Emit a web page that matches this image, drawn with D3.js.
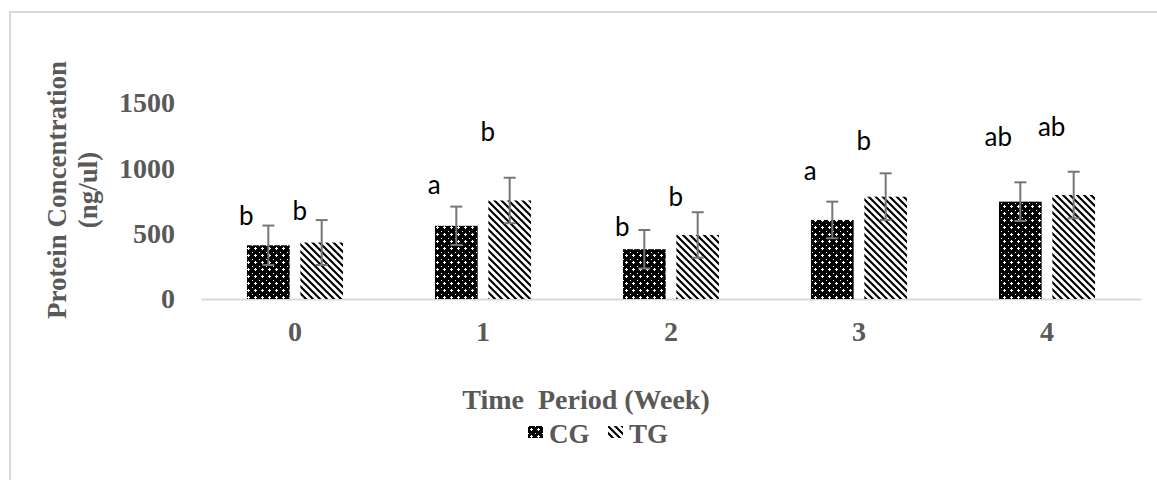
<!DOCTYPE html>
<html>
<head>
<meta charset="utf-8">
<script src="https://cdn.jsdelivr.net/npm/d3@7"></script>
<style>
  body { margin: 0; background: #fff; }
  svg { display: block; }
</style>
</head>
<body>
<svg></svg>
<script>
// data
var weeks = ['0', '1', '2', '3', '4'];
var groups = ['CG', 'TG'];
var cgMean = [411, 560, 381, 605, 745];
var cgSd = [151, 147, 147, 140, 148];
var tgMean = [432, 754, 490, 783, 796];
var tgSd = [172, 174, 174, 179, 178];
var cgLetters = ['b', 'a', 'b', 'a', 'ab'];
var tgLetters = ['b', 'b', 'b', 'b', 'ab'];
// height (in ng/ul) where each letter sits
var cgLetterAt = [635, 872, 551, 980, 1240];
var tgLetterAt = [673, 1278, 781, 1209, 1316];
var yTicks = [0, 500, 1000, 1500];

var svgWidth = 1157, svgHeight = 480;
var grey = '#595959';
var serif = '"Liberation Serif", "Times New Roman", serif';

var svg = d3.select('svg')
    .attr('width', svgWidth)
    .attr('height', svgHeight);

// patterns
var defs = svg.append('defs');
var pCG = defs.append('pattern')
    .attr('id', 'pat-cg')
    .attr('patternUnits', 'userSpaceOnUse')
    .attr('width', 7).attr('height', 7);
pCG.append('rect').attr('width', 7).attr('height', 7).attr('fill', '#000');
pCG.append('rect').attr('x', 2).attr('y', 3).attr('width', 3).attr('height', 1).attr('fill', '#fff');
pCG.append('rect').attr('x', 3).attr('y', 2).attr('width', 1).attr('height', 3).attr('fill', '#fff');
pCG.append('rect').attr('x', 0).attr('y', 0).attr('width', 1).attr('height', 1).attr('fill', '#fff');

var pTG = defs.append('pattern')
    .attr('id', 'pat-tg')
    .attr('patternUnits', 'userSpaceOnUse')
    .attr('width', 7).attr('height', 7);
pTG.append('rect').attr('width', 7).attr('height', 7).attr('fill', '#fff');
pTG.append('path')
    .attr('d', 'M-1,-1L8,8M-1,6L1,8M6,-1L8,1')
    .attr('stroke', '#000')
    .attr('stroke-width', 2.1);

var fills = { CG: 'url(#pat-cg)', TG: 'url(#pat-tg)' };

// outer frame
svg.append('rect')
    .attr('x', 10).attr('y', 12)
    .attr('width', svgWidth + 20).attr('height', svgHeight + 20)
    .attr('fill', 'none')
    .attr('stroke', '#d9d9d9')
    .attr('stroke-width', 2);

var x0 = d3.scaleBand()
    .domain(weeks)
    .range([201, 1141])
    .paddingInner(0.489)
    .paddingOuter(0.2445);

var x1 = d3.scaleBand()
    .domain(groups)
    .range([0, x0.bandwidth()])
    .paddingInner(0.2);

var y = d3.scaleLinear()
    .domain([0, 1500])
    .range([299, 103]);

// rows, one per bar
var rows = [];
weeks.forEach(function(w, i) {
    rows.push({ week: w, group: 'CG', mean: cgMean[i], sd: cgSd[i], letter: cgLetters[i], at: cgLetterAt[i] });
    rows.push({ week: w, group: 'TG', mean: tgMean[i], sd: tgSd[i], letter: tgLetters[i], at: tgLetterAt[i] });
});

// y axis labels
var yAxis = svg.append('g')
    .attr('transform', 'translate(201,0)')
    .call(d3.axisLeft(y).tickValues(yTicks).tickFormat(d3.format('d')).tickSize(0).tickPadding(26));
yAxis.select('.domain').remove();
yAxis.selectAll('text')
    .attr('fill', grey)
    .style('font-family', serif)
    .style('font-weight', 'bold')
    .style('font-size', '28px');

// x axis
var xAxis = svg.append('g')
    .attr('transform', 'translate(0,' + y(0) + ')')
    .call(d3.axisBottom(x0).tickSize(0).tickPadding(22).tickSizeOuter(0));
xAxis.select('.domain')
    .attr('stroke', '#d9d9d9')
    .attr('stroke-width', 2);
xAxis.selectAll('text')
    .attr('fill', grey)
    .style('font-family', serif)
    .style('font-weight', 'bold')
    .style('font-size', '28px');

// bars
var bars = svg.append('g');
bars.selectAll('rect')
    .data(rows)
    .enter()
    .append('rect')
    .attr('x', d => x0(d.week) + x1(d.group))
    .attr('y', d => y(d.mean))
    .attr('width', x1.bandwidth())
    .attr('height', d => y(0) - y(d.mean))
    .attr('fill', d => fills[d.group]);

// error bars
var err = svg.append('g')
    .attr('stroke', '#767676')
    .attr('stroke-width', 2);
var cx = d => x0(d.week) + x1(d.group) + x1.bandwidth() / 2;
err.selectAll('line.v')
    .data(rows).enter().append('line')
    .attr('class', 'v')
    .attr('x1', cx).attr('x2', cx)
    .attr('y1', d => y(d.mean + d.sd))
    .attr('y2', d => y(d.mean - d.sd));
err.selectAll('line.top')
    .data(rows).enter().append('line')
    .attr('class', 'top')
    .attr('x1', d => cx(d) - 6).attr('x2', d => cx(d) + 6)
    .attr('y1', d => y(d.mean + d.sd)).attr('y2', d => y(d.mean + d.sd));
err.selectAll('line.bot')
    .data(rows).enter().append('line')
    .attr('class', 'bot')
    .attr('x1', d => cx(d) - 6).attr('x2', d => cx(d) + 6)
    .attr('y1', d => y(d.mean - d.sd)).attr('y2', d => y(d.mean - d.sd));

// significance letters
svg.append('g').selectAll('text')
    .data(rows).enter().append('text')
    .attr('x', d => cx(d) - 22)
    .attr('y', d => y(d.at))
    .attr('dy', '0.35em')
    .attr('text-anchor', 'middle')
    .attr('fill', '#000')
    .style('font-family', 'Lato, "Open Sans", sans-serif')
    .style('font-size', '26px')
    .text(d => d.letter);

// axis titles
svg.append('text')
    .attr('x', 586).attr('y', 409)
    .attr('text-anchor', 'middle')
    .attr('fill', grey)
    .style('font-family', serif)
    .style('font-weight', 'bold')
    .style('font-size', '28px')
    .style('white-space', 'pre')
    .text('Time  Period (Week)');

var yt = svg.append('text')
    .attr('transform', 'translate(0,190) rotate(-90)')
    .attr('text-anchor', 'middle')
    .attr('fill', grey)
    .style('font-family', serif)
    .style('font-weight', 'bold')
    .style('font-size', '27px');
yt.append('tspan').attr('x', 0).attr('y', 66).text('Protein Concentration');
yt.append('tspan').attr('x', 0).attr('y', 97).text('(ng/ul)');

// legend
var legend = svg.append('g').attr('transform', 'translate(528,426)');
var li = legend.selectAll('g')
    .data(groups).enter().append('g')
    .attr('transform', (d, i) => 'translate(' + (i * 80) + ',0)');
li.append('rect')
    .attr('width', 15).attr('height', 12)
    .attr('fill', d => fills[d]);
li.append('text')
    .attr('x', 21).attr('y', 17)
    .attr('fill', grey)
    .style('font-family', serif)
    .style('font-weight', 'bold')
    .style('font-size', '27px')
    .text(d => d);
</script>
</body>
</html>
